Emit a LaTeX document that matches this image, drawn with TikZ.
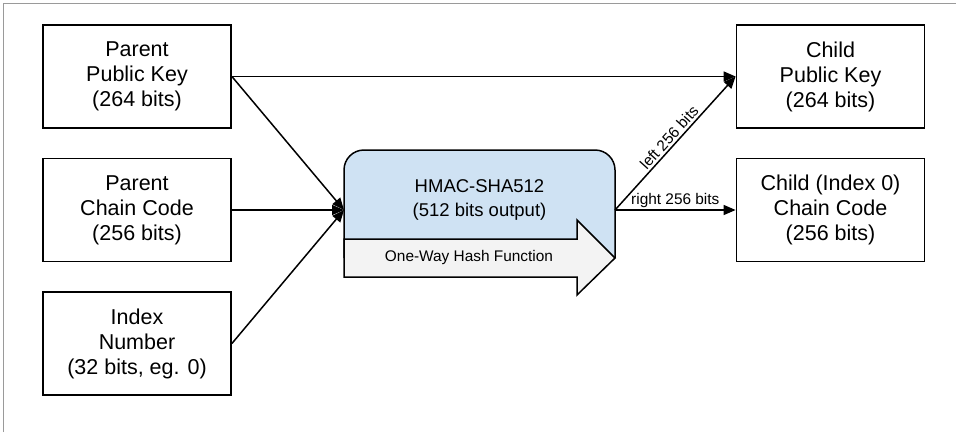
\documentclass[tikz,border=0pt]{standalone}
\usepackage{fontspec}
\setmainfont{Liberation Sans}
\usepackage{xcolor}
\usepackage{tikz}
\usetikzlibrary{arrows.meta}
\definecolor{hmacBlue}{HTML}{CFE2F3}
\definecolor{hashGray}{HTML}{F3F3F3}
\definecolor{frameGray}{HTML}{9A9A9A}
\newcommand{\boxWidth}{188}
\newcommand{\boxHeight}{103}
\newcommand{\leftColumn}{137}
\newcommand{\rightColumn}{830.5}
\newcommand{\hmacLeft}{344}
\newcommand{\hmacRight}{615}
\newcommand{\headStart}{577}
\newcommand{\bigFont}{\fontsize{21.5}{25}\selectfont}
\newcommand{\midFont}{\fontsize{18.5}{24}\selectfont}
\newcommand{\smallFont}{\fontsize{15.4}{18}\selectfont}
\tikzset{
	keyBox/.style={draw, line width=1.8pt, minimum width=\boxWidth pt, minimum height=\boxHeight pt, align=center, font=\bigFont, inner sep=0pt},
	flowArrow/.style={line width=1.5pt, -{Triangle[length=12pt,width=10pt]}},
	bitsLabel/.style={font=\smallFont, inner sep=2pt}
}

\begin{document}
\begin{tikzpicture}[x=1pt,y=-1pt]
		\useasboundingbox (0,0) rectangle (956,432);
		\draw[frameGray, line width=1pt] (3,432) -- (3,3) -- (956,3);
		
		\foreach \nodeName/\yPos/\nodeText in {parentKey/76.5/{Parent\\Public Key\\(264 bits)}, parentChain/210/{Parent\\Chain Code\\(256 bits)}, indexNum/343.5/{Index\\Number\\(32 bits, eg. 0)}}
		{
			\node[keyBox] (\nodeName) at (\leftColumn,\yPos) {\nodeText};
		}
		\foreach \nodeName/\yPos/\nodeText in {childKey/76.5/{Child\\Public Key\\(264 bits)}, childChain/210/{Child (Index 0)\\Chain Code\\(256 bits)}}
		{
			\node[keyBox] (\nodeName) at (\rightColumn,\yPos) {\nodeText};
		}
		
		% hash block with the one-way arrow on top
		\draw[fill=hmacBlue, line width=1.5pt, rounded corners=20pt] (\hmacLeft,258) -- (\hmacLeft,150) -- (\hmacRight,150) -- (\hmacRight,258);
		\draw[fill=hashGray, line width=1.5pt] (\hmacLeft,239) -- (\headStart,239) -- (\headStart,220) -- (\hmacRight,258) -- (\headStart,295) -- (\headStart,277) -- (\hmacLeft,277) -- cycle;
		\node[font=\midFont, align=center] (hmacLabel) at (479.5,200) {HMAC-SHA512\\(512 bits output)};
		\node[font=\smallFont] (hashLabel) at (469,258) {One-Way Hash Function};
		\coordinate (hmacIn) at (\hmacLeft,210);
		\coordinate (hmacOut) at (\hmacRight,210);
		
		\draw[flowArrow] (parentKey.east) -- (childKey.west);
		\draw[flowArrow] (parentKey.east) -- (hmacIn);
		\draw[flowArrow] (parentChain.east) -- (hmacIn);
		\draw[flowArrow] (indexNum.east) -- (hmacIn);
		\draw[flowArrow] (hmacOut) -- node[bitsLabel, above, sloped] {left 256 bits} (childKey.west);
		\draw[flowArrow] (hmacOut) -- node[bitsLabel, above] {right 256 bits} (childChain.west);
	\end{tikzpicture}
\end{document}
